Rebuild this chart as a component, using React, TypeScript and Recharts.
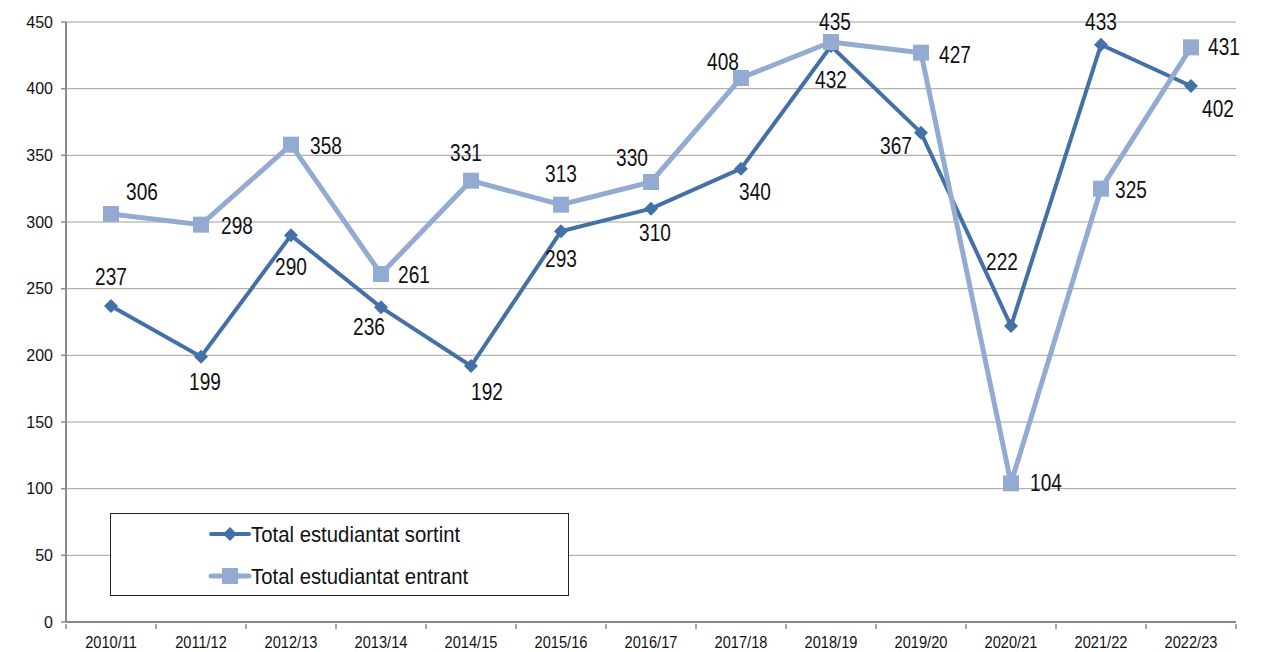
import React from 'react';
import { LineChart, Line, XAxis, YAxis, CartesianGrid } from 'recharts';

const years = ['2010/11', '2011/12', '2012/13', '2013/14', '2014/15', '2015/16', '2016/17', '2017/18', '2018/19', '2019/20', '2020/21', '2021/22', '2022/23'];
const sortint = [237, 199, 290, 236, 192, 293, 310, 340, 432, 367, 222, 433, 402];
const entrant = [306, 298, 358, 261, 331, 313, 330, 408, 435, 427, 104, 325, 431];
const yTicks = [0, 50, 100, 150, 200, 250, 300, 350, 400, 450];

// label placement (offset from the point to the label centre), like the Excel source
const sortintLabelOffsets: [number, number][] = [
  [0, -29], [4, 25], [0, 32], [-12, 20], [16, 26], [0, 28], [4, 24],
  [14, 23], [0, 34], [-25, 13], [-9, -64], [0, -23], [27, 23],
];
const entrantLabelOffsets: [number, number][] = [
  [31, -22], [36, 1], [35, 1], [33, 1], [-5, -28], [0, -31], [-19, -24],
  [-18, -16], [4, -20], [34, 2], [35, 0], [30, 1], [33, 0],
];

const DARK = '#4470a8';
const LIGHT = '#93aad3';
const FONT = "'Liberation Sans', Arial, sans-serif";

const W = 1268;
const H = 652;
const margin = { top: 22, right: 32, left: 0, bottom: 0 };
const Y_AXIS_W = 66;
const bandW = (W - Y_AXIS_W - margin.right) / years.length;

const data = years.map((year, i) => ({ year, sortint: sortint[i], entrant: entrant[i] }));

// no condensed font installed, so squeeze the regular one horizontally
const NarrowText = ({ x, y, size, sx, anchor = 'middle', children }: any) => (
  <text
    transform={`translate(${x},${y}) scale(${sx},1)`}
    textAnchor={anchor}
    dominantBaseline="central"
    fontFamily={FONT}
    fontSize={size}
    fill="#111"
  >
    {children}
  </text>
);

const Diamond = (props: any) => {
  const { cx, cy } = props;
  if (cx == null || cy == null) return null;
  const r = 7;
  return <polygon points={`${cx},${cy - r} ${cx + r},${cy} ${cx},${cy + r} ${cx - r},${cy}`} fill={DARK} />;
};

const Square = (props: any) => {
  const { cx, cy } = props;
  if (cx == null || cy == null) return null;
  return <rect x={cx - 8} y={cy - 8} width={16} height={16} fill={LIGHT} />;
};

const makeLabel = (offsets: [number, number][]) => (props: any) => {
  const { x, y, value, index } = props;
  const [dx, dy] = offsets[index] || [0, -20];
  return (
    <NarrowText x={x + dx} y={y + dy} size={23} sx={0.83}>
      {value}
    </NarrowText>
  );
};

const XTick = (props: any) => {
  const { x, y, payload, index } = props;
  const last = index === years.length - 1;
  return (
    <g>
      <line x1={x - bandW / 2} x2={x - bandW / 2} y1={y} y2={y + 5} stroke="#8a8a8a" strokeWidth={1.5} />
      {last && <line x1={x + bandW / 2} x2={x + bandW / 2} y1={y} y2={y + 5} stroke="#8a8a8a" strokeWidth={1.5} />}
      <NarrowText x={x} y={y + 18} size={17} sx={0.86}>
        {payload.value}
      </NarrowText>
    </g>
  );
};

const LegendBox = () => (
  <div style={{
    position: 'absolute', left: 110, top: 513, width: 459, height: 83,
    border: '1px solid #222', background: '#fff', boxSizing: 'border-box',
  }}>
    <svg width={457} height={81} style={{ display: 'block' }}>
      <line x1={100} x2={138} y1={20} y2={20} stroke={DARK} strokeWidth={4} strokeLinecap="round" />
      <polygon points="119,13 126,20 119,27 112,20" fill={DARK} />
      <NarrowText x={140} y={20} size={22} sx={0.925} anchor="start">
        Total estudiantat sortint
      </NarrowText>
      <line x1={100} x2={138} y1={62} y2={62} stroke={LIGHT} strokeWidth={5} strokeLinecap="round" />
      <rect x={111} y={54} width={16} height={16} fill={LIGHT} />
      <NarrowText x={140} y={62} size={22} sx={0.925} anchor="start">
        Total estudiantat entrant
      </NarrowText>
    </svg>
  </div>
);

export default function App() {
  return (
    <div style={{ position: 'relative', width: W, height: H, background: '#fff' }}>
      <style>{'body{margin:0}'}</style>
      <LineChart width={W} height={H} data={data} margin={margin}>
        <CartesianGrid vertical={false} stroke="#a0a0a0" strokeWidth={1} />
        <XAxis
          dataKey="year"
          height={30}
          padding={{ left: bandW / 2, right: bandW / 2 }}
          axisLine={{ stroke: '#8a8a8a', strokeWidth: 2 }}
          tickLine={false}
          tickSize={0}
          tick={<XTick />}
          interval={0}
        />
        <YAxis
          domain={[0, 450]}
          ticks={yTicks}
          width={Y_AXIS_W}
          axisLine={{ stroke: '#8a8a8a', strokeWidth: 2 }}
          tickLine={{ stroke: '#8a8a8a', strokeWidth: 1.5 }}
          tickSize={5}
          tickMargin={8}
          tick={{ fontFamily: FONT, fontSize: 16, fill: '#111' }}
          interval={0}
        />
        <Line
          dataKey="sortint"
          name="Total estudiantat sortint"
          stroke={DARK}
          strokeWidth={4}
          dot={<Diamond />}
          activeDot={false}
          label={makeLabel(sortintLabelOffsets)}
          isAnimationActive={false}
        />
        <Line
          dataKey="entrant"
          name="Total estudiantat entrant"
          stroke={LIGHT}
          strokeWidth={5}
          dot={<Square />}
          activeDot={false}
          label={makeLabel(entrantLabelOffsets)}
          isAnimationActive={false}
        />
      </LineChart>
      <LegendBox />
    </div>
  );
}
